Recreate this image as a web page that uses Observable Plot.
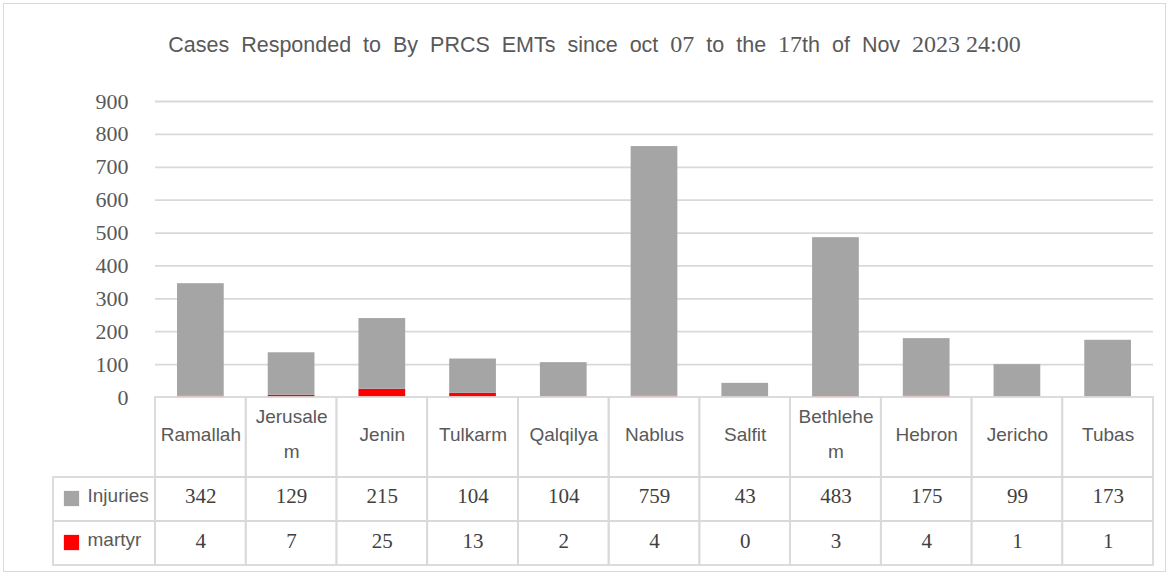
<!DOCTYPE html>
<html><head><meta charset="utf-8">
<script src="https://cdn.jsdelivr.net/npm/d3@7"></script>
<script src="https://cdn.jsdelivr.net/npm/@observablehq/plot@0.6"></script>
<style>
body{margin:0;background:#fff;}
#wrap{position:relative;width:1169px;height:575px;overflow:hidden;}
#border{position:absolute;left:3px;top:3px;width:1163px;height:569px;border:1.5px solid #d9d9d9;box-sizing:border-box;}
#title{position:absolute;top:33px;left:20px;width:1149px;text-align:center;font-family:"Liberation Sans",Arial,sans-serif;font-size:21.5px;line-height:23px;word-spacing:6px;color:#595959;white-space:nowrap;}
#title .s{font-family:"Liberation Serif","DejaVu Serif",serif;font-size:24px;word-spacing:0;}
#chart{position:absolute;left:0;top:0;}
</style></head>
<body>
<div id="wrap">
  <div id="border"></div>
  <div id="chart"></div>
  <div id="title">Cases Responded to By PRCS EMTs since oct <span class="s">07</span> to the <span class="s">17</span>th of Nov <span class="s">2023 24:00</span></div>
</div>
<script>
const cities = ["Ramallah","Jerusalem","Jenin","Tulkarm","Qalqilya","Nablus","Salfit","Bethlehem","Hebron","Jericho","Tubas"];
const cityLabels = ["Ramallah","Jerusale\nm","Jenin","Tulkarm","Qalqilya","Nablus","Salfit","Bethlehe\nm","Hebron","Jericho","Tubas"];
const injuries = [342,129,215,104,104,759,43,483,175,99,173];
const martyrs = [4,7,25,13,2,4,0,3,4,1,1];
const series = ["Injuries","martyr"];
const seriesColors = ["#a5a5a5","#ff0000"];
const yTicks = [0,100,200,300,400,500,600,700,800,900];

const rows = cities.flatMap((c,i)=>[
  {city:c, series:"martyr", value:martyrs[i]},
  {city:c, series:"Injuries", value:injuries[i]}
]);

const W = 1169, H = 575, ML = 155, MR = 16, MT = 101, MB = 178;
const bw = (W - ML - MR) / cities.length;
const gridC = "#d9d9d9";
const sans = "'Liberation Sans', Arial, sans-serif";
const serif = "'Liberation Serif', 'DejaVu Serif', serif";

function cellRow(top, bottom) {
  return Plot.barY(cities, {x: d=>d, y1: 0, y2: 0, insetTop: top, insetBottom: -bottom,
    fill: "none", stroke: gridC, strokeWidth: 1.8});
}
function leftCell(top, bottom) {
  return Plot.barY([cities[0]], {x: d=>d, y1: 0, y2: 0, insetTop: top, insetBottom: -bottom,
    insetLeft: -102, insetRight: bw, fill: "none", stroke: gridC, strokeWidth: 1.8});
}

const plot = Plot.plot({
  width: W, height: H,
  marginLeft: ML, marginRight: MR, marginTop: MT, marginBottom: MB,
  x: {domain: cities, padding: 0, round: false, axis: null},
  y: {domain: [0, 900], axis: null},
  color: {domain: series, range: seriesColors},
  style: {background: "transparent", overflow: "visible"},
  marks: [
    Plot.ruleY(yTicks.filter(d=>d>0), {stroke: gridC, strokeWidth: 1.8}),
    Plot.barY(rows, Plot.stackY({x: "city", y: "value", fill: "series", insetLeft: 22, insetRight: 22})),
    Plot.text(yTicks, {y: d=>d, frameAnchor: "left", dx: -27, textAnchor: "end", text: d=>String(d),
      fontFamily: serif, fontSize: 22, fill: "#595959"}),
    cellRow(0, 80), cellRow(80, 124), cellRow(124, 168),
    leftCell(80, 124), leftCell(124, 168),
    Plot.text(cities, {x: d=>d, y: 0, dy: 32, text: (d,i)=>cityLabels[i], lineHeight: 1.84,
      fontFamily: sans, fontSize: 19, fill: "#595959"}),
    Plot.text(cities, {x: d=>d, y: 0, dy: 99, text: (d,i)=>String(injuries[i]),
      fontFamily: serif, fontSize: 21, fill: "#404040"}),
    Plot.text(cities, {x: d=>d, y: 0, dy: 144, text: (d,i)=>String(martyrs[i]),
      fontFamily: serif, fontSize: 21, fill: "#404040"}),
    Plot.dot([series[0]], {frameAnchor: "left", y: 0, dx: -84, dy: 101, symbol: "square", r: 8.6, fill: d=>d}),
    Plot.dot([series[1]], {frameAnchor: "left", y: 0, dx: -84, dy: 145, symbol: "square", r: 8.6, fill: d=>d}),
    Plot.text([series[0]], {frameAnchor: "left", y: 0, dx: -68, dy: 98, text: d=>d, textAnchor: "start",
      fontFamily: sans, fontSize: 19, fill: "#595959"}),
    Plot.text([series[1]], {frameAnchor: "left", y: 0, dx: -68, dy: 142, text: d=>d, textAnchor: "start",
      fontFamily: sans, fontSize: 19, fill: "#595959"})
  ]
});
document.getElementById("chart").appendChild(plot);
</script>
</body></html>
